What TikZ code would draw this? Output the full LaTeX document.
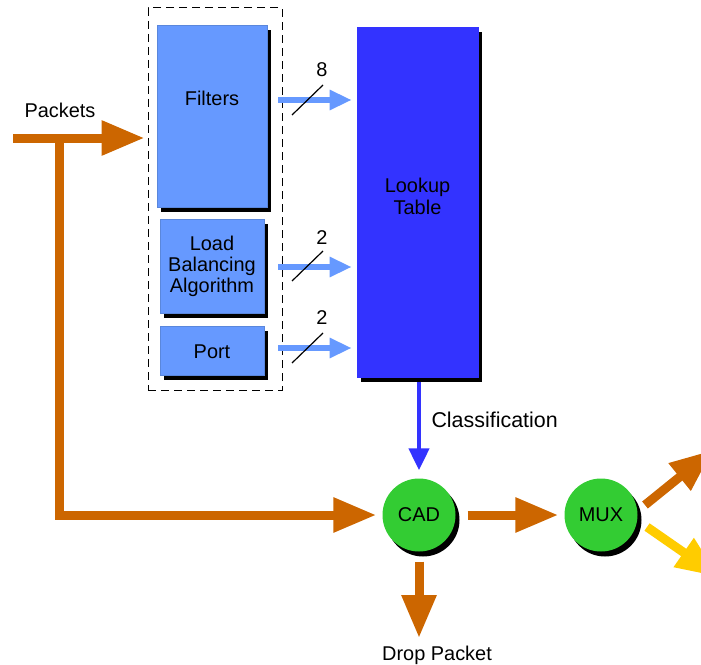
\documentclass[tikz,border=0pt]{standalone}
\usepackage{fontspec}
\setmainfont{Liberation Sans}
\usetikzlibrary{arrows.meta,shadows,calc}
\definecolor{lightblu}{RGB}{102,153,255}
\definecolor{boxedge}{RGB}{90,135,220}
\definecolor{deepblu}{RGB}{51,51,255}
\definecolor{grn}{RGB}{51,204,51}
\definecolor{orng}{RGB}{204,102,0}
\definecolor{yllw}{RGB}{255,204,0}
\begin{document}
\begin{tikzpicture}[x=1bp,y=-1bp,
  font=\fontsize{20}{21}\selectfont,
  shade/.style={drop shadow={shadow xshift=4bp, shadow yshift=-5bp, fill=black, opacity=1}},
  boxstyle/.style={draw=boxedge, line width=0.6bp, fill=lightblu, inner sep=0, align=center, shade},
  tablebox/.style={draw=deepblu, line width=0.6bp, fill=deepblu, inner sep=0, align=center, shade},
  ball/.style={circle, fill=grn, inner sep=0, minimum size=73bp, shade},
  fatarrow/.style={draw=orng, line width=9bp, -{Triangle[length=43bp,width=33bp]}},
  bluearr/.style={draw=lightblu, line width=5.5bp, -{Triangle[length=22bp,width=19bp]}},
  classarr/.style={draw=deepblu, line width=4.5bp, -{Triangle[length=22bp,width=20bp]}},
  slash/.style={draw=black, line width=1.2bp},
  dashbox/.style={draw=black, line width=1bp, dash pattern=on 8bp off 5bp, inner sep=0}
]
\useasboundingbox (0,0) rectangle (701,665);
\clip (0,0) rectangle (701,665);

% group box
\node[dashbox, minimum width=134bp, minimum height=382bp] (grp) at (215,199) {};

% boxes
\node[boxstyle, minimum width=110bp, minimum height=182bp,
      label={[yshift=18bp]center:Filters}] (filters) at (212,116) {};
\node[boxstyle, minimum width=104bp, minimum height=94bp] (lb) at (212,266) {Load\\Balancing\\Algorithm};
\node[boxstyle, minimum width=104bp, minimum height=49bp, text depth=0bp] (port) at (212,350.5) {\raisebox{-3bp}{Port}};
\node[tablebox, minimum width=121bp, minimum height=350bp,
      label={[yshift=6bp, align=center, font=\fontsize{20}{22}\selectfont]center:Lookup\\Table}] (lookup) at (417.5,202) {};

% circles
\node[ball] (cad) at (419,515) {CAD};
\node[ball] (mux) at (601,515) {MUX};

% labels
\node (packets) at (60,110) {Packets};
\node[anchor=west, font=\fontsize{21.5}{23}\selectfont] (classlbl) at (428,420) {Classification};
\node (drop) at (437,655) {Drop Packet};
\node (n8) at (322,70) {8};
\node (n2a) at (322,238) {2};
\node (n2b) at (322,318) {2};

% coordinates
\coordinate (pin) at (13,138);
\coordinate (branch) at (59,138);
\coordinate (corner) at (59,515);
\coordinate (fa) at (0,100);
\coordinate (la) at (0,267);
\coordinate (pa) at (0,348);
\coordinate (droptip) at (419,638);

% packets arrows
\draw[fatarrow, shorten >=3bp] (pin) -- (grp.west |- pin);
\draw[draw=orng, line width=9bp, line join=miter, -{Triangle[length=43bp,width=33bp]}, shorten >=6bp] (branch) -- (corner) -- (cad);

% blue arrows into lookup
\draw[bluearr, shorten <=11bp, shorten >=5bp] (filters.east |- fa) -- (lookup.west |- fa);
\draw[bluearr, shorten <=14bp, shorten >=5bp] (lb.east |- la) -- (lookup.west |- la);
\draw[bluearr, shorten <=14bp, shorten >=5bp] (port.east |- pa) -- (lookup.west |- pa);

% bus slashes
\draw[slash] (292,115) -- (323,85);
\draw[slash] (292,281) -- (323,251);
\draw[slash] (292,363) -- (323,333);

% classification
\draw[classarr, shorten <=5bp, shorten >=8bp] (lookup.south -| cad.north) -- (cad.north);

% CAD -> MUX
\draw[fatarrow, shorten <=12bp, shorten >=6bp] (cad) -- (mux);
% drop
\draw[fatarrow, shorten <=10bp] (cad.south) -- (droptip);

% MUX outputs
\draw[fatarrow] ([shift={(44,-10)}]mux.center) -- ++(68,-55);
\draw[fatarrow, draw=yllw] ([shift={(46,12)}]mux.center) -- ++(72,50);
\end{tikzpicture}
\end{document}
